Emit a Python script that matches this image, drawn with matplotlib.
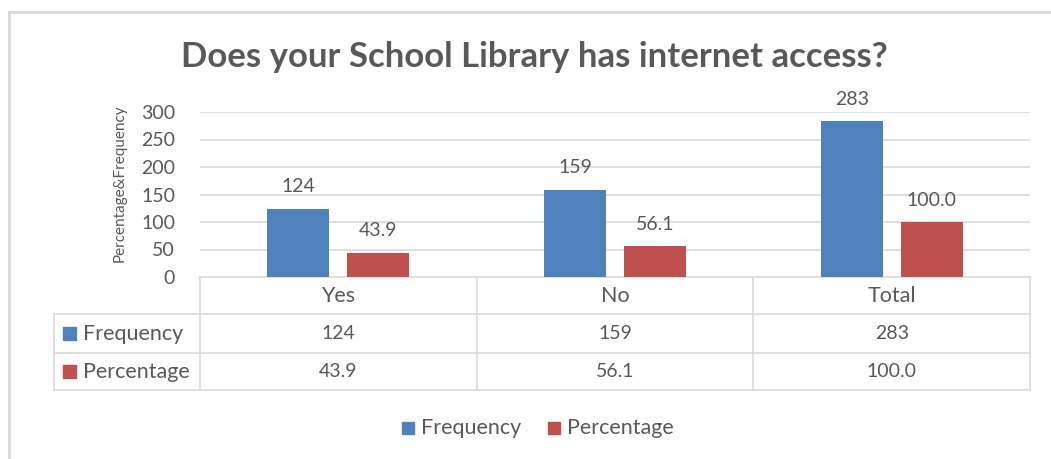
"""School library internet access: Excel-style bar chart with a data table underneath."""
import matplotlib.pyplot as plt
from matplotlib.lines import Line2D
from matplotlib.patches import Rectangle

categories = ["Yes", "No", "Total"]
series_names = ["Frequency", "Percentage"]
frequency = [124, 159, 283]
percentage = [43.9, 56.1, 100.0]
frequency_labels = ["124", "159", "283"]
percentage_labels = ["43.9", "56.1", "100.0"]
y_ticks = [0, 50, 100, 150, 200, 250, 300]

BLUE = "#4F81BD"
RED = "#C0504D"
TEXT = "#595959"
GRID = "#D9D9D9"
FONT = "Lato"
NUM_SIZE = 14
WORD_SIZE = 15.5

W, H = 1051, 459
DPI = 100

# plot area in pixels (left, top, right, bottom)
PX_L, PX_T, PX_R, PX_B = 200, 112, 1030, 277


def fx(px):
    return px / W


def fy(py):
    return 1 - py / H


fig = plt.figure(figsize=(W / DPI, H / DPI), dpi=DPI)
fig.patch.set_facecolor("white")

# overlay in pixel coords for frame and table
over = fig.add_axes([0, 0, 1, 1])
over.set_xlim(0, W)
over.set_ylim(H, 0)
over.axis("off")

ax = fig.add_axes([fx(PX_L), fy(PX_B), fx(PX_R - PX_L), fy(PX_T) - fy(PX_B)])
ax.set_xlim(-0.5, len(categories) - 0.5)
ax.set_ylim(0, 300)

unit = (PX_R - PX_L) / len(categories)
bar_w = 62 / unit
offset = 40 / unit
xs = list(range(len(categories)))

ax.bar([x - offset for x in xs], frequency, width=bar_w, color=BLUE, zorder=3)
ax.bar([x + offset for x in xs], percentage, width=bar_w, color=RED, zorder=3)

for x, v, lab in zip(xs, frequency, frequency_labels):
    ax.annotate(lab, (x - offset, v), xytext=(0, 22), textcoords="offset pixels",
                ha="center", va="center", fontsize=NUM_SIZE, color=TEXT, family=FONT)
for x, v, lab in zip(xs, percentage, percentage_labels):
    ax.annotate(lab, (x + offset, v), xytext=(0, 22), textcoords="offset pixels",
                ha="center", va="center", fontsize=NUM_SIZE, color=TEXT, family=FONT)

ax.set_yticks(y_ticks)
ax.set_yticklabels([str(t) for t in y_ticks], fontsize=NUM_SIZE, color=TEXT, family=FONT)
ax.tick_params(axis="y", length=0, pad=18)
ax.set_xticks([])
ax.grid(axis="y", color=GRID, linewidth=1.2, zorder=0)
for s in ax.spines.values():
    s.set_visible(False)
ax.set_ylabel("Percentage&Frequency", fontsize=11, color=TEXT, family=FONT, labelpad=2)
ax.yaxis.set_label_coords(-0.088, 0.57)

# title
fig.text(fx(534), fy(57), "Does your School Library has internet access?",
         ha="center", va="center", fontsize=25, fontweight="bold", color=TEXT, family=FONT)

# chart frame (left and top edges)
over.add_line(Line2D([9, 9], [12, H], color=GRID, linewidth=2))
over.add_line(Line2D([9, W], [12, 12], color=GRID, linewidth=2))

# data table
TBL_L = 54
rows_y = [277, 314, 353, 390]
col_x = [PX_L + i * unit for i in range(len(categories) + 1)]
lc = "#D9D9D9"
over.add_line(Line2D([PX_L, PX_R], [rows_y[0]] * 2, color=lc, linewidth=1.2))
for y in rows_y[1:]:
    over.add_line(Line2D([TBL_L, PX_R], [y, y], color=lc, linewidth=1.2))
over.add_line(Line2D([TBL_L, TBL_L], [rows_y[1], rows_y[3]], color=lc, linewidth=1.2))
for x in col_x:
    over.add_line(Line2D([x, x], [rows_y[0], rows_y[3]], color=lc, linewidth=1.2))

for i, cat in enumerate(categories):
    cx = (col_x[i] + col_x[i + 1]) / 2
    over.text(cx, (rows_y[0] + rows_y[1]) / 2, cat, ha="center", va="center",
              fontsize=WORD_SIZE, color=TEXT, family=FONT)
    over.text(cx, (rows_y[1] + rows_y[2]) / 2, frequency_labels[i], ha="center", va="center",
              fontsize=NUM_SIZE, color=TEXT, family=FONT)
    over.text(cx, (rows_y[2] + rows_y[3]) / 2, percentage_labels[i], ha="center", va="center",
              fontsize=NUM_SIZE, color=TEXT, family=FONT)

for r, (name, color) in enumerate(zip(series_names, [BLUE, RED])):
    cy = (rows_y[r + 1] + rows_y[r + 2]) / 2
    over.add_patch(Rectangle((63, cy - 6.5), 13, 13, color=color))
    over.text(83, cy, name, ha="left", va="center", fontsize=WORD_SIZE, color=TEXT, family=FONT)

# legend
leg_y = 428
for name, color, x0 in zip(series_names, [BLUE, RED], [402, 548]):
    over.add_patch(Rectangle((x0, leg_y - 6), 12, 12, color=color))
    over.text(x0 + 19, leg_y, name, ha="left", va="center", fontsize=WORD_SIZE, color=TEXT, family=FONT)

fig.savefig("out.png", dpi=DPI, facecolor="white")
